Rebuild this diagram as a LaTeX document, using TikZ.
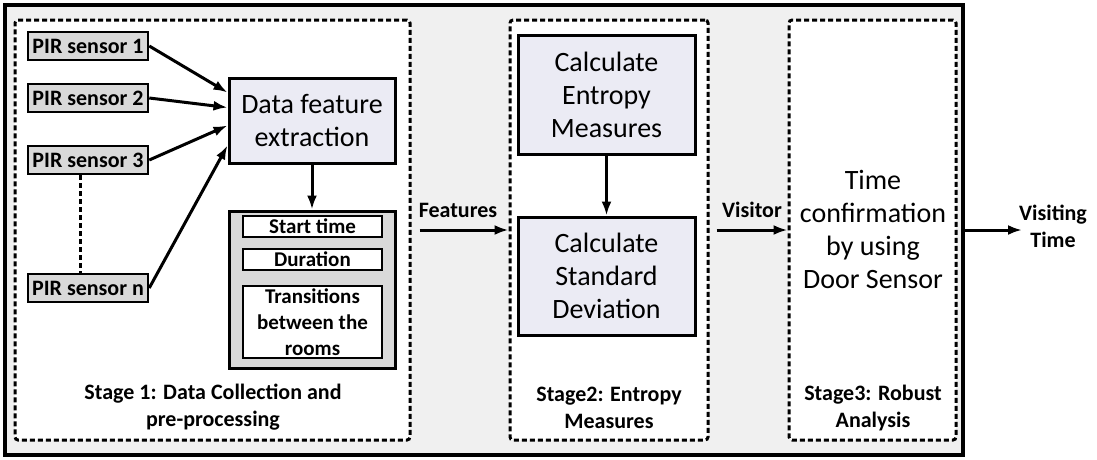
\documentclass[tikz,border=0pt]{standalone}
\usepackage{fontspec}
\setmainfont{Carlito}
\usetikzlibrary{arrows.meta}

\definecolor{framegray}{RGB}{240,240,240}
\definecolor{sensgray}{RGB}{217,217,217}
\definecolor{procfill}{RGB}{235,235,244}

\tikzset{
  small/.style={font=\fontsize{22}{27}\selectfont\bfseries, align=center},
  big/.style={font=\fontsize{28}{33}\selectfont, align=center},
  stagebox/.style={draw, fill=white, line width=3pt, dash pattern=on 5pt off 3pt, rounded corners=3pt, inner sep=0pt},
  sensor/.style={small, draw, line width=2.5pt, fill=sensgray, minimum width=120pt, minimum height=28pt, inner sep=0pt},
  proc/.style={big, draw, line width=3pt, fill=procfill, inner sep=0pt},
  item/.style={font=\fontsize{21}{26}\selectfont\bfseries, align=center, draw, line width=2.5pt, fill=white, minimum width=139pt, inner sep=0pt},
  arr/.style={line width=3pt, -{Latex[length=14pt,width=10pt]}}
}

\begin{document}
\begin{tikzpicture}[x=1pt,y=-1pt]
  \useasboundingbox (0,0) rectangle (1097,459);
  % frame and stages
  \node[draw, line width=3.5pt, fill=framegray, minimum width=958pt, minimum height=450pt, inner sep=0pt] at (484,230) (frame) {};
  \node[stagebox, minimum width=395pt, minimum height=420pt] at (212.5,230) (st1) {};
  \node[stagebox, minimum width=198pt, minimum height=420pt] at (609,230) (st2) {};
  \node[stagebox, minimum width=167pt, minimum height=420pt] at (872.5,230) (st3) {};

  % stage 1
  \node[sensor] at (88,46)  (s1) {PIR sensor 1};
  \node[sensor] at (88,98)  (s2) {PIR sensor 2};
  \node[sensor] at (88,160) (s3) {PIR sensor 3};
  \node[sensor] at (88,288) (sn) {PIR sensor n};
  \node[proc, minimum width=166pt, minimum height=85pt] at (312,120.5) (dfe) {Data feature\\extraction};
  \draw[arr] (s1.east) -- ([yshift=28pt]dfe.west);
  \draw[arr] (s2.east) -- ([yshift=13pt]dfe.west);
  \draw[arr] (s3.east) -- ([yshift=-5pt]dfe.west);
  \draw[arr] (sn.east) -- ([yshift=-25pt]dfe.west);
  \draw[line width=3pt, dash pattern=on 5pt off 3pt] ([xshift=-8pt]s3.south) -- ([xshift=-8pt]sn.north);

  \node[draw, line width=3pt, fill=sensgray, minimum width=166pt, minimum height=157pt, inner sep=0pt] at (312,289.5) (feat) {};
  \node[item, minimum height=21pt] at (312.5,226.5) (start) {Start time};
  \node[item, minimum height=21pt] at (312.5,259.5) (dur) {Duration};
  \node[item, minimum height=72pt] at (312.5,322) (trans) {Transitions\\between the\\rooms};
  \draw[arr] (dfe.south) -- (feat.north);
  \node[small] at (213,407) (lab1) {Stage 1: Data Collection and\\pre-processing};

  % stage 2
  \node[proc, minimum width=177pt, minimum height=119pt] at (606.5,94.5) (ent) {Calculate\\Entropy\\Measures};
  \node[proc, minimum width=177pt, minimum height=118pt] at (606.5,276) (std) {Calculate\\Standard\\Deviation};
  \draw[arr] (ent.south) -- (std.north);
  \node[small] at (609,408) (lab2) {Stage2: Entropy\\Measures};

  % stage 3
  \node[big] at (873,229) (conf) {Time\\confirmation\\by using\\Door Sensor};
  \node[small] at (873,408) (lab3) {Stage3: Robust\\Analysis};

  % links between stages
  \node[small] at (458,210) (fl) {Features};
  \draw[arr] ([xshift=8pt]st1.east) -- (st2.west);
  \node[small] at (752,210) (vl) {Visitor};
  \draw[arr] ([xshift=7pt]st2.east) -- (st3.west);
  \coordinate (vt) at (1022,230);
  \draw[arr] (frame.east) -- (vt);
  \node[small] at (1053,226) (out) {Visiting\\Time};
\end{tikzpicture}
\end{document}
